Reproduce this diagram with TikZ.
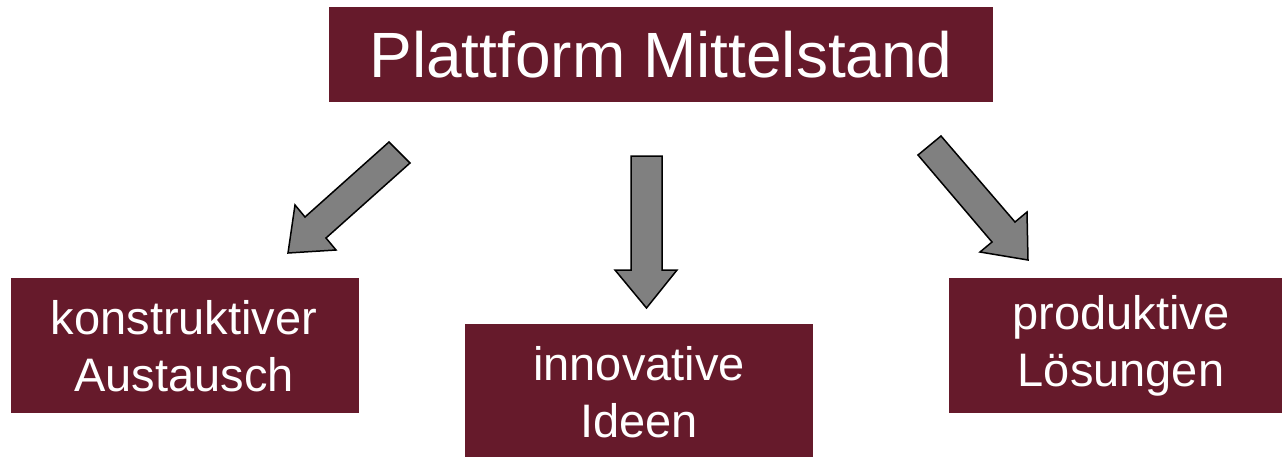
\documentclass[tikz,border=0pt]{standalone}
\usepackage{fontspec}
\setmainfont{Liberation Sans}
\definecolor{boxred}{RGB}{102,26,43}
\definecolor{arrowgray}{RGB}{128,128,128}
\begin{document}
\begin{tikzpicture}[x=1pt,y=-1pt,
  boxtext/.style={text=white,align=center,inner sep=0pt},
  bigfont/.style={font=\fontsize{64}{77}\selectfont},
  smallfont/.style={font=\fontsize{47}{57}\selectfont},
  blockarrow/.style={fill=arrowgray,draw=black,line width=1.5pt,line join=miter}]
\useasboundingbox (0,0) rectangle (1282,456);
% boxes
\fill[boxred] (329,7) rectangle (993,102);
\node[boxtext,bigfont] (top) at (661,55) {Plattform Mittelstand};
\fill[boxred] (11,278) rectangle (359,413);
\node[boxtext,smallfont] (left) at (184,346) {konstruktiver\\Austausch};
\fill[boxred] (465,324) rectangle (813,470);
\node[boxtext,smallfont] (mid) at (639,392) {innovative\\Ideen};
\fill[boxred] (949,278) rectangle (1293,413);
\node[boxtext,smallfont] (right) at (1121,346) {produktive\\Lösungen};
% arrows
\draw[blockarrow] (389,142) -- (410,163) -- (326,238) -- (336,250) -- (288,253) -- (295,205) -- (305,217) -- cycle;
\draw[blockarrow] (631,156) -- (662,156) -- (662,270) -- (677,270) -- (646.5,308) -- (615,270) -- (631,270) -- cycle;
\draw[blockarrow] (918,155) -- (941,136) -- (1015,222) -- (1027,212) -- (1028,260) -- (980,252) -- (992,242) -- cycle;
\end{tikzpicture}
\end{document}
